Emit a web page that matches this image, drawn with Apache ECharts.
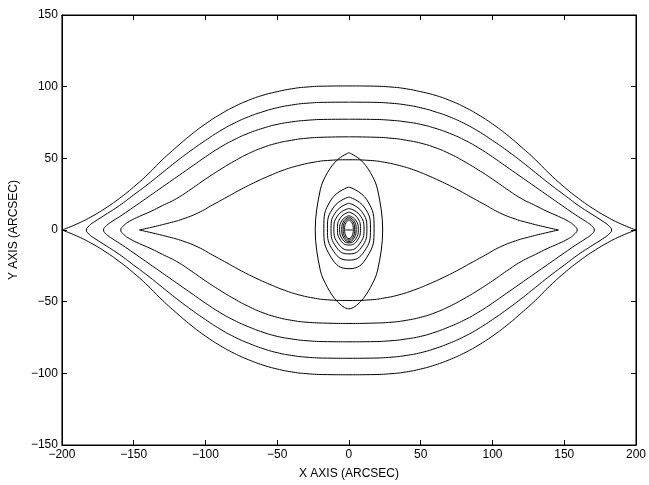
<!DOCTYPE html>
<html>
<head>
<meta charset="utf-8">
<script src="https://cdn.jsdelivr.net/npm/echarts@6/dist/echarts.min.js"></script>
<style>
html, body { margin: 0; padding: 0; background: #fff; }
#chart { width: 649px; height: 485px; }
</style>
</head>
<body>
<div id="chart"></div>
<script>
// outer "eye" curves, upper and lower halves, left tip -> right tip
var c1Top = [[-200,0],[-190,4],[-180,9],[-170,15],[-160,22],[-150,30],[-140,39],[-130,49],[-120,58],[-110,66.5],[-100,74],[-90,80.5],[-80,86],[-70,90.5],[-60,94],[-50,96.5],[-40,98.5],[-30,99.7],[-15,100.4],[0,100.5],
             [15,100.4],[30,99.7],[40,98.5],[50,96.5],[60,94],[70,90.5],[80,86],[90,80.5],[100,74],[110,66.5],[120,58],[130,49],[140,39],[150,30],[160,22],[170,15],[180,9],[190,4],[200,0]];
var c1Bot = [[-200,0],[-190,-4],[-180,-9],[-170,-15],[-160,-22],[-150,-30],[-140,-39],[-130,-49],[-120,-58],[-110,-66.5],[-100,-74],[-90,-80.5],[-80,-86],[-70,-90.5],[-60,-94.2],[-50,-97],[-40,-99],[-30,-100.2],[-15,-100.9],[0,-101],
             [15,-100.9],[30,-100.2],[40,-99],[50,-97],[60,-94.2],[70,-90.5],[80,-86],[90,-80.5],[100,-74],[110,-66.5],[120,-58],[130,-49],[140,-39],[150,-30],[160,-22],[170,-15],[180,-9],[190,-4],[200,0]];
var c2Top = [[-183,0],[-181,3],[-177,6],[-170,10.5],[-160,17],[-150,24.5],[-140,32],[-130,40],[-120,48],[-110,55.5],[-100,62.5],[-90,69],[-80,74.5],[-70,79],[-60,82.5],[-50,85.3],[-40,87.2],[-30,88.4],[-15,89.1],[0,89.2],
             [15,89.1],[30,88.4],[40,87.2],[50,85.3],[60,82.5],[70,79],[80,74.5],[90,69],[100,62.5],[110,55.5],[120,48],[130,40],[140,32],[150,24.5],[160,17],[170,10.5],[177,6],[181,3],[183,0]];
var c2Bot = [[-183,0],[-181,-3],[-177,-6],[-170,-10.5],[-160,-17],[-150,-24.5],[-140,-32],[-130,-40],[-120,-48],[-110,-55.5],[-100,-62.5],[-90,-69],[-80,-74.5],[-70,-79],[-60,-82.7],[-50,-85.6],[-40,-87.5],[-30,-88.7],[-15,-89.4],[0,-89.5],
             [15,-89.4],[30,-88.7],[40,-87.5],[50,-85.6],[60,-82.7],[70,-79],[80,-74.5],[90,-69],[100,-62.5],[110,-55.5],[120,-48],[130,-40],[140,-32],[150,-24.5],[160,-17],[170,-10.5],[177,-6],[181,-3],[183,0]];
var c3Top = [[-171,0],[-169,3],[-165,6],[-158,10.5],[-150,16],[-140,23],[-130,30],[-120,37],[-110,44],[-100,51],[-90,57.5],[-80,63],[-70,67.5],[-60,71],[-50,73.7],[-40,75.4],[-30,76.5],[-15,77.2],[0,77.3],
             [15,77.2],[30,76.5],[40,75.4],[50,73.7],[60,71],[70,67.5],[80,63],[90,57.5],[100,51],[110,44],[120,37],[130,30],[140,23],[150,16],[158,10.5],[165,6],[169,3],[171,0]];
var c3Bot = [[-171,0],[-169,-3],[-165,-6],[-158,-10.5],[-150,-16],[-140,-23],[-130,-30],[-120,-37],[-110,-44],[-100,-51],[-90,-57.5],[-80,-63],[-70,-67.5],[-60,-71.3],[-50,-74.2],[-40,-76],[-30,-77.2],[-15,-77.9],[0,-78],
             [15,-77.9],[30,-77.2],[40,-76],[50,-74.2],[60,-71.3],[70,-67.5],[80,-63],[90,-57.5],[100,-51],[110,-44],[120,-37],[130,-30],[140,-23],[150,-16],[158,-10.5],[165,-6],[169,-3],[171,0]];
var c4Top = [[-159,0],[-157,3],[-153,6],[-146,9.5],[-138,13],[-130,17],[-120,22],[-110,28.5],[-100,35.5],[-90,42],[-80,48],[-70,53.3],[-60,57.5],[-50,60.6],[-40,62.6],[-30,64],[-15,64.8],[0,65],
             [15,64.8],[30,64],[40,62.6],[50,60.6],[60,57.5],[70,53.3],[80,48],[90,42],[100,35.5],[110,28.5],[120,22],[130,17],[138,13],[146,9.5],[153,6],[157,3],[159,0]];
var c4Bot = [[-159,0],[-157,-3],[-153,-6],[-146,-9.5],[-138,-13],[-130,-17],[-120,-22],[-110,-28.5],[-100,-35.5],[-90,-42],[-80,-48],[-70,-53.3],[-60,-57.7],[-50,-60.9],[-40,-63],[-30,-64.3],[-15,-65],[0,-65.2],
             [15,-65],[30,-64.3],[40,-63],[50,-60.9],[60,-57.7],[70,-53.3],[80,-48],[90,-42],[100,-35.5],[110,-28.5],[120,-22],[130,-17],[138,-13],[146,-9.5],[153,-6],[157,-3],[159,0]];
var c5Top = [[-146,0],[-135,2.5],[-125,5],[-116,7.6],[-105,12],[-95,17.5],[-85,23],[-75,28.5],[-65,33.5],[-55,38],[-45,42],[-35,45],[-25,47.2],[-15,48.5],[0,49],
             [15,48.5],[25,47.2],[35,45],[45,42],[55,38],[65,33.5],[75,28.5],[85,23],[95,17.5],[105,12],[116,7.6],[125,5],[135,2.5],[146,0]];
var c5Bot = [[-146,0],[-135,-2.5],[-125,-5],[-116,-7.6],[-105,-12],[-95,-17.5],[-85,-23],[-75,-28.5],[-65,-33.5],[-55,-38],[-45,-42],[-35,-45.2],[-25,-47.4],[-15,-48.7],[0,-49.2],
             [15,-48.7],[25,-47.4],[35,-45.2],[45,-42],[55,-38],[65,-33.5],[75,-28.5],[85,-23],[95,-17.5],[105,-12],[116,-7.6],[125,-5],[135,-2.5],[146,0]];

// central spiral rings (closed, starting at top)
var ring1 = [[0,54],[-8,49],[-15,40],[-20,28],[-23.5,0],[-20,-28],[-15,-40],[-8,-50],[0,-55],[8,-50],[15,-40],[20,-28],[23.5,0],[20,28],[15,40],[8,49],[0,54]];
var ring2 = [[0,30],[-12.5,21],[-17.5,1],[-12.5,-19],[0,-27],[12.5,-19],[17.5,1],[12.5,21],[0,30]];
var ring3 = [[0,23],[-10.6,16],[-15,1],[-10.6,-15],[0,-21],[10.6,-15],[15,1],[10.6,16],[0,23]];
var ring4 = [[0,18.7],[-8.8,13],[-12.5,1],[-8.8,-12],[0,-16.7],[8.8,-12],[12.5,1],[8.8,13],[0,18.7]];
var ring5 = [[0,15],[-7.4,10.6],[-10.5,0.5],[-7.4,-9.6],[0,-14],[7.4,-9.6],[10.5,0.5],[7.4,10.6],[0,15]];
var ring6 = [[0,12.5],[-5.7,8.8],[-8,1],[-5.7,-7.4],[0,-10.5],[5.7,-7.4],[8,1],[5.7,8.8],[0,12.5]];
var ring7 = [[0,10],[-4.6,7],[-6.5,0.5],[-4.6,-6.4],[0,-9],[4.6,-6.4],[6.5,0.5],[4.6,7],[0,10]];
var ring8 = [[0,9],[-3.5,6.4],[-5,0.5],[-3.5,-5.7],[0,-8],[3.5,-5.7],[5,0.5],[3.5,6.4],[0,9]];
var ring9 = [[0,8],[-2.8,5.7],[-4,0.5],[-2.8,-5],[0,-7],[2.8,-5],[4,0.5],[2.8,5.7],[0,8]];
var ring10 = [[0,7],[-2.1,5],[-3,0.5],[-2.1,-4.3],[0,-6],[2.1,-4.3],[3,0.5],[2.1,5],[0,7]];
var centerBar = [[-2.5,0],[2.5,0]];

function closeLoop(top, bot) {
    // top goes left->right, bottom comes back right->left; start at top middle
    var ring = top.concat(bot.slice().reverse().slice(1, -1));
    var mid = Math.floor(top.length / 2);
    return ring.slice(mid).concat(ring.slice(0, mid + 1));
}

function minus(v) {
    return String(v).replace('-', '\u2212');
}

var lines = [
    c1Top, c1Bot,
    closeLoop(c2Top, c2Bot),
    closeLoop(c3Top, c3Bot),
    closeLoop(c4Top, c4Bot),
    c5Top, c5Bot,
    ring1, ring2, ring3, ring4, ring5, ring6, ring7, ring8, ring9, ring10, centerBar
];

var series = lines.map(function (d) {
    return {
        type: 'line',
        data: d,
        showSymbol: false,
        smooth: (d === ring1 ? 0.35 : 0.5),
        lineStyle: { color: '#000', width: 1 },
        silent: true
    };
});

var labelFont = { color: '#000', fontSize: 12, fontFamily: 'Liberation Sans, Arial, sans-serif' };

var myChart = echarts.init(document.getElementById('chart'));
var option = {
    animation: false,
    grid: {
        left: 58, right: 10, top: 15, bottom: 35,
        show: true, borderColor: '#000', borderWidth: 1
    },
    xAxis: [
        {
            type: 'value', min: -200, max: 200, interval: 50,
            name: 'X AXIS (ARCSEC)', nameLocation: 'middle', nameGap: 23,
            nameTextStyle: labelFont,
            axisLine: { show: true, onZero: false, lineStyle: { color: '#000' } },
            axisTick: { inside: true, length: 5, lineStyle: { color: '#000' } },
            axisLabel: Object.assign({ margin: 4, formatter: minus }, labelFont),
            splitLine: { show: false }
        },
        {
            type: 'value', position: 'top', min: -200, max: 200, interval: 50,
            axisLine: { show: true, onZero: false, lineStyle: { color: '#000' } },
            axisTick: { inside: true, length: 5, lineStyle: { color: '#000' } },
            axisLabel: { show: false },
            splitLine: { show: false }
        }
    ],
    yAxis: [
        {
            type: 'value', min: -150, max: 150, interval: 50,
            name: 'Y AXIS (ARCSEC)', nameLocation: 'middle', nameGap: 40,
            nameTextStyle: labelFont,
            axisLine: { show: true, onZero: false, lineStyle: { color: '#000' } },
            axisTick: { inside: true, length: 5, lineStyle: { color: '#000' } },
            axisLabel: Object.assign({ margin: 4, formatter: minus }, labelFont),
            splitLine: { show: false }
        },
        {
            type: 'value', position: 'right', min: -150, max: 150, interval: 50,
            axisLine: { show: true, onZero: false, lineStyle: { color: '#000' } },
            axisTick: { inside: true, length: 5, lineStyle: { color: '#000' } },
            axisLabel: { show: false },
            splitLine: { show: false }
        }
    ],
    series: series
};
myChart.setOption(option, true);
window.onresize = function () {
    myChart.resize();
};
</script>
</body>
</html>
